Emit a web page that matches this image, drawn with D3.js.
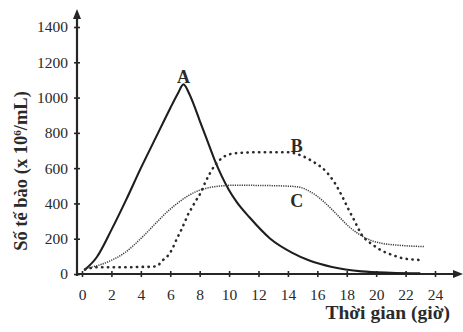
<!DOCTYPE html>
<html><head><meta charset="utf-8">
<script src="https://cdn.jsdelivr.net/npm/d3@7"></script>
<style>
html,body{margin:0;padding:0;background:#fff;}
svg{display:block;}
text{font-family:"Liberation Serif","Times New Roman",serif;fill:#2a2a2a;}
</style></head>
<body><svg id="c" width="463" height="332"></svg>
<script>
// ---- data ----
const xTicks = [0,2,4,6,8,10,12,14,16,18,20,22,24];
const yTicks = [0,200,400,600,800,1000,1200,1400];
const seriesNames = ["A","B","C"];
const timeA  = [0.2,1,2,3,4,5,6,6.5,6.9,7.3,7.6,8,8.5,9,9.5,10,10.5,11.4,12.8,14.3,15.5,17,19,21,23];
const valueA = [25,95,250,420,600,770,940,1020,1075,1020,960,870,760,650,555,475,410,320,200,120,75,40,15,7,4];
const timeB  = [0.2,1,2,3,4,4.7,5.1,5.45,5.8,6.1,6.45,6.75,7.0,7.25,7.45,7.7,8.05,8.4,8.7,9.05,9.5,10,11,12,14,14.8,15.7,16.6,17.2,17.7,18.1,18.5,19.0,19.8,20.3,20.8,21.3,21.8,22.4,23];
const valueB = [25,38,38,38,40,41,45,75,100,136,200,250,297,344,372,410,457,523,571,618,656,678,688,690,690,675,637,580,514,438,370,306,225,164,136,117,102,89,83,79];
const timeC  = [0.2,1.8,2.9,4.05,5.1,5.7,6.35,7.25,7.9,8.8,10.4,12,14,14.8,15.5,16,16.5,17,17.55,18.2,18.9,19.6,20.3,21.4,23.3];
const valueC = [30,70,120,205,295,345,392,445,472,492,503,502,498,492,467,440,405,365,318,265,222,192,175,164,155];
const labelPos = {A:[6.9,1085], B:[14.6,692], C:[14.6,378]};

// ---- chart ----
const svg = d3.select("#c");
const x = d3.scaleLinear().domain([0,24]).range([82,435]);
const y = d3.scaleLinear().domain([0,1400]).range([274,27]);
const axisX0 = 77, ink = "#262626";

// y axis
const gy = svg.append("g").attr("transform",`translate(${axisX0},0)`)
  .call(d3.axisLeft(y).tickValues(yTicks).tickFormat(d3.format("d")).tickSize(3).tickPadding(7));
gy.select(".domain").remove();
gy.selectAll(".tick line").attr("x1",-3).attr("x2",3).attr("stroke",ink).attr("stroke-width",1.6);
gy.selectAll(".tick text").attr("font-size",15.5).attr("x",-9).attr("fill","#333")
  .style("font-family","'Liberation Serif',serif");
svg.append("line").attr("x1",axisX0).attr("x2",axisX0).attr("y1",y(0)+2).attr("y2",16)
  .attr("stroke",ink).attr("stroke-width",2.2);
svg.append("path").attr("d",`M${axisX0-4},${19}L${axisX0},${9}L${axisX0+4},${19}Z`).attr("fill",ink);

// x axis
const gx = svg.append("g").attr("transform",`translate(0,${y(0)})`)
  .call(d3.axisBottom(x).tickValues(xTicks).tickFormat(d3.format("d")).tickSize(3).tickPadding(12));
gx.select(".domain").remove();
gx.selectAll(".tick line").attr("y1",-3).attr("y2",3).attr("stroke",ink).attr("stroke-width",1.6);
gx.selectAll(".tick text").attr("font-size",15.5).attr("fill","#333")
  .style("font-family","'Liberation Serif',serif");
svg.append("line").attr("x1",axisX0-1).attr("x2",456).attr("y1",y(0)).attr("y2",y(0))
  .attr("stroke",ink).attr("stroke-width",2.2);
svg.append("path").attr("d",`M${453},${y(0)-4}L${463},${y(0)}L${453},${y(0)+4}Z`).attr("fill",ink);

// curves
const line = d3.line().x(d=>x(d[0])).y(d=>y(d[1])).curve(d3.curveMonotoneX);
const zip = (t,v)=>t.map((tt,i)=>[tt,v[i]]);
svg.append("path").datum(zip(timeA,valueA)).attr("d",line)
  .attr("fill","none").attr("stroke","#1e1e1e").attr("stroke-width",2.1);
svg.append("path").datum(zip(timeB,valueB)).attr("d",line)
  .attr("fill","none").attr("stroke","#2a2a2a").attr("stroke-width",2.6)
  .attr("stroke-linecap","round").attr("stroke-dasharray","0.3 5.5");
svg.append("path").datum(zip(timeC,valueC)).attr("d",line)
  .attr("fill","none").attr("stroke","#3a3a3a").attr("stroke-width",1.5)
  .attr("stroke-dasharray","1.2 1.1");

// curve labels
seriesNames.forEach(n=>{
  svg.append("text").attr("x",x(labelPos[n][0])).attr("y",y(labelPos[n][1]))
    .attr("text-anchor","middle").attr("font-size",18).attr("font-weight","bold")
    .attr("fill","#2a2a2a").text(n);
});

// axis titles
svg.append("text").attr("x",450).attr("y",319).attr("text-anchor","end")
  .attr("font-size",19.5).attr("font-weight","bold").text("Thời gian (giờ)");
const yt = svg.append("text").attr("transform","translate(27,171) rotate(-90)")
  .attr("text-anchor","middle").attr("font-size",18.5).attr("font-weight","bold");
yt.append("tspan").text("Số tế bào (x 10");
yt.append("tspan").attr("dy",-6).attr("font-size",11).text("6");
yt.append("tspan").attr("dy",6).text("/mL)");
</script></body></html>
